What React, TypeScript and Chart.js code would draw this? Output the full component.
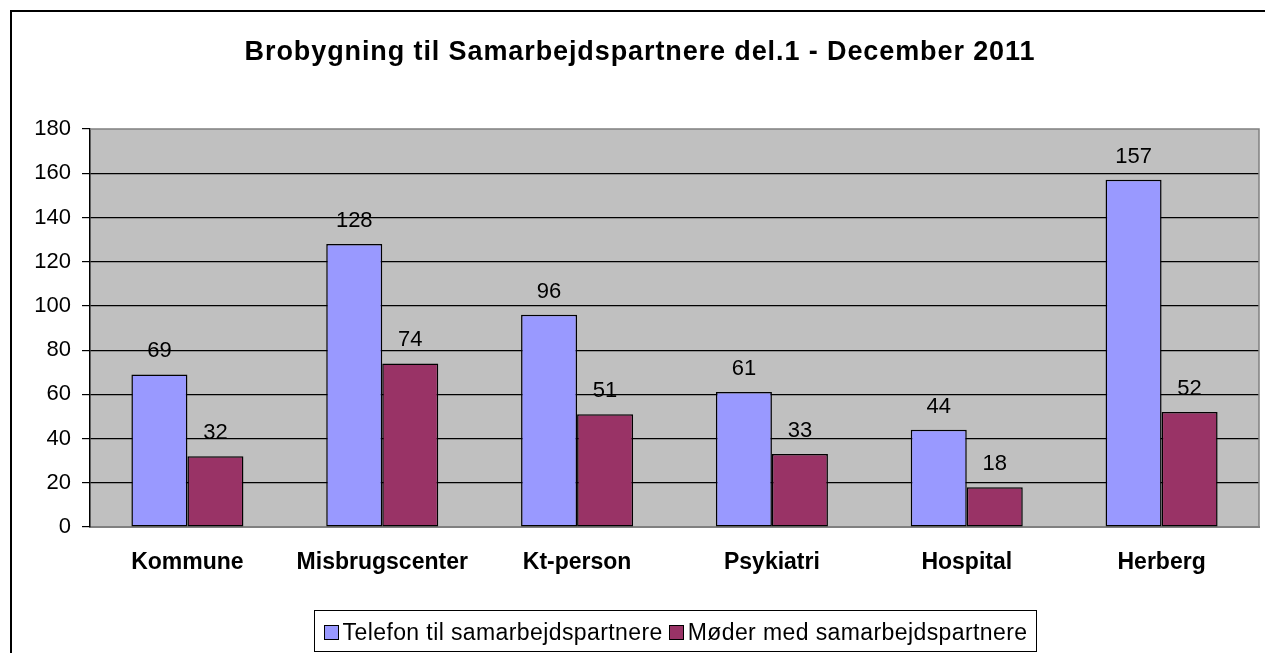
import React, { useEffect, useRef } from 'react';
import { Chart, registerables } from 'chart.js';

Chart.register(...registerables);

const titleText = 'Brobygning til Samarbejdspartnere del.1 - December 2011';
const categories = ['Kommune', 'Misbrugscenter', 'Kt-person', 'Psykiatri', 'Hospital', 'Herberg'];
const seriesNames = ['Telefon til samarbejdspartnere', 'Møder med samarbejdspartnere'];
const telefonValues = [69, 128, 96, 61, 44, 157];
const moederValues = [32, 74, 51, 33, 18, 52];
const yMin = 0;
const yMax = 180;
const yStep = 20;

const FONT = '"Liberation Sans", Arial, Helvetica, sans-serif';
const BLUE = '#9999FF';
const MAROON = '#993366';

const decorPlugin = {
  id: 'decor',
  beforeDraw(chart: any) {
    const { ctx, chartArea: a } = chart;
    ctx.save();
    ctx.fillStyle = '#ffffff';
    ctx.fillRect(0, 0, chart.width, chart.height);
    ctx.fillStyle = '#C0C0C0';
    ctx.fillRect(a.left, a.top, a.right - a.left, a.bottom - a.top);
    ctx.restore();
  },
  afterDatasetsDraw(chart: any) {
    const { ctx, chartArea: a } = chart;
    ctx.save();
    ctx.strokeStyle = '#808080';
    ctx.lineWidth = 1.5;
    ctx.beginPath();
    ctx.moveTo(a.left, a.top);
    ctx.lineTo(a.right, a.top);
    ctx.lineTo(a.right, a.bottom);
    ctx.stroke();

    ctx.fillStyle = '#000';
    ctx.font = `22px ${FONT}`;
    ctx.textAlign = 'center';
    ctx.textBaseline = 'alphabetic';
    chart.data.datasets.forEach((ds: any, i: number) => {
      const meta = chart.getDatasetMeta(i);
      meta.data.forEach((el: any, j: number) => {
        ctx.fillText(String(ds.data[j]), el.x, el.y - 17);
      });
    });
    ctx.restore();
  },
  afterDraw(chart: any) {
    const { ctx, chartArea: a } = chart;
    ctx.save();
    // title
    ctx.fillStyle = '#000';
    ctx.font = `bold 27px ${FONT}`;
    (ctx as any).letterSpacing = '0.9px';
    ctx.textAlign = 'center';
    ctx.textBaseline = 'alphabetic';
    ctx.fillText(titleText, 640, 60);

    // legend
    ctx.font = `23px ${FONT}`;
    (ctx as any).letterSpacing = '0.4px';
    ctx.textAlign = 'left';
    const sq = 14, gapSq = 5, gapItem = 6, padL = 10, padR = 8;
    const items = chart.data.datasets.map((ds: any) => ({
      label: ds.label,
      color: ds.backgroundColor,
      w: ctx.measureText(ds.label).width,
    }));
    let total = padL + padR + gapItem * (items.length - 1);
    items.forEach((it: any) => { total += sq + gapSq + it.w; });
    const left = (a.left + a.right) / 2 - total / 2;
    const top = 610, h = 41;
    ctx.lineWidth = 1;
    ctx.strokeStyle = '#000';
    ctx.fillStyle = '#fff';
    ctx.fillRect(Math.round(left) + 0.5, top + 0.5, Math.round(total), h);
    ctx.strokeRect(Math.round(left) + 0.5, top + 0.5, Math.round(total), h);
    let x = left + padL;
    items.forEach((it: any) => {
      ctx.fillStyle = it.color;
      ctx.fillRect(Math.round(x) + 0.5, 625.5, sq, sq);
      ctx.strokeRect(Math.round(x) + 0.5, 625.5, sq, sq);
      x += sq + gapSq;
      ctx.fillStyle = '#000';
      ctx.fillText(it.label, x, 640);
      x += it.w + gapItem;
    });

    // outer frame (only top and left edges are inside the view)
    (ctx as any).letterSpacing = '0px';
    ctx.lineWidth = 2;
    ctx.strokeStyle = '#000';
    ctx.beginPath();
    ctx.moveTo(11, chart.height);
    ctx.lineTo(11, 11);
    ctx.lineTo(chart.width, 11);
    ctx.stroke();
    ctx.restore();
  },
};

export default function App() {
  const ref = useRef<HTMLCanvasElement | null>(null);
  useEffect(() => {
    if (!ref.current) return;
    Chart.defaults.font.family = FONT;
    const chart = new Chart(ref.current, {
      type: 'bar',
      data: {
        labels: categories,
        datasets: [
          {
            label: seriesNames[0],
            data: telefonValues,
            backgroundColor: BLUE,
            borderColor: '#000',
            borderWidth: 1.5,
            borderSkipped: false,
            categoryPercentage: 0.575,
            barPercentage: 1.0,
          },
          {
            label: seriesNames[1],
            data: moederValues,
            backgroundColor: MAROON,
            borderColor: '#000',
            borderWidth: 1.5,
            borderSkipped: false,
            categoryPercentage: 0.575,
            barPercentage: 1.0,
          },
        ],
      },
      options: {
        responsive: false,
        animation: false,
        devicePixelRatio: 1,
        layout: { padding: { top: 129, right: 6, left: 0, bottom: 0 } },
        plugins: {
          legend: { display: false },
          title: { display: false },
          tooltip: { enabled: false },
        },
        scales: {
          x: {
            grid: { display: false, drawTicks: false },
            border: { color: '#808080', width: 2 },
            ticks: {
              color: '#000',
              font: { size: 23, weight: 'bold', family: FONT },
              padding: 22,
              maxRotation: 0,
            },
            afterFit(scale: any) { scale.height = 126; },
          },
          y: {
            min: yMin,
            max: yMax,
            ticks: {
              stepSize: yStep,
              color: '#000',
              font: { size: 22, family: FONT },
              padding: 11,
            },
            grid: {
              color: (c: any) => (c.tick && (c.tick.value === yMin || c.tick.value === yMax) ? 'rgba(0,0,0,0)' : '#000'),
              tickColor: '#000',
              tickLength: 8,
              lineWidth: 1.2,
            },
            border: { color: '#000', width: 1.5 },
            afterFit(scale: any) { scale.width = 90; },
          },
        },
      },
      plugins: [decorPlugin],
    } as any);
    return () => chart.destroy();
  }, []);
  return (
    <div style={{ position: 'fixed', left: 0, top: 0, width: 1265, height: 653, background: '#fff' }}>
      <canvas ref={ref} width={1265} height={653} style={{ display: 'block', width: 1265, height: 653 }} />
    </div>
  );
}
